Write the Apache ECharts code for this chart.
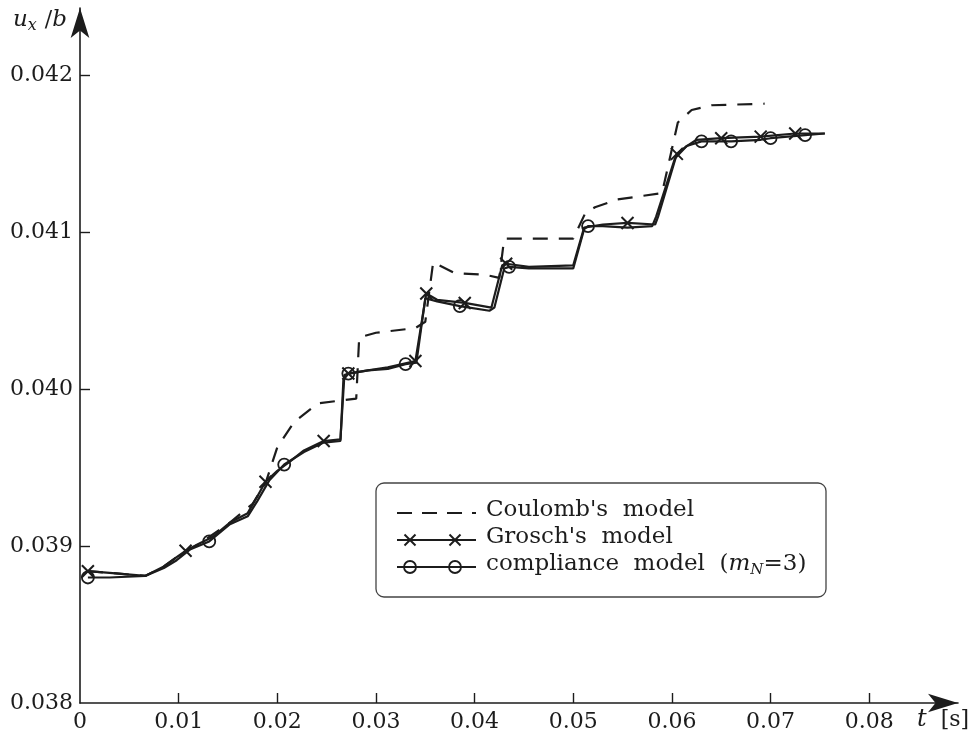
<!DOCTYPE html>
<html>
<head>
<meta charset="utf-8">
<script src="https://cdn.jsdelivr.net/npm/echarts@6/dist/echarts.min.js"></script>
<style>
  html, body { margin: 0; padding: 0; background: #fff; }
  #chart { width: 975px; height: 746px; }
</style>
</head>
<body>
<div id="chart"></div>
<script>
// tick labels
var xTicks = [0, 0.01, 0.02, 0.03, 0.04, 0.05, 0.06, 0.07, 0.08];
var yTicks = [0.038, 0.039, 0.040, 0.041, 0.042];

// Grosch's model (crosses)
var groschT = [0.0008, 0.0030, 0.0066, 0.0085, 0.0098, 0.0107, 0.0122, 0.0135, 0.0152, 0.0170,
               0.0180, 0.0188, 0.0200, 0.0213, 0.0227, 0.0247, 0.0264, 0.0268, 0.0272, 0.0292,
               0.0312, 0.0340, 0.0351, 0.0362, 0.0390, 0.0417, 0.0428, 0.0432, 0.0455, 0.0500,
               0.0511, 0.0530, 0.0555, 0.0583, 0.0586, 0.0605, 0.0615, 0.0625, 0.0650, 0.0690,
               0.0725, 0.0755];
var groschY = [0.03884, 0.03883, 0.03881, 0.03887, 0.03893, 0.03897, 0.03902, 0.03906, 0.03915, 0.03921,
               0.03932, 0.03941, 0.03948, 0.03954, 0.03961, 0.03967, 0.03968, 0.04009, 0.04010, 0.04012,
               0.04014, 0.04018, 0.04061, 0.04057, 0.04055, 0.04052, 0.04079, 0.04080, 0.04078, 0.04079,
               0.04103, 0.04105, 0.04106, 0.04105, 0.04110, 0.04150, 0.04155, 0.04159, 0.04160, 0.04161,
               0.04163, 0.04163];
var groschMarks = [0.0008, 0.0107, 0.0188, 0.0247, 0.0272, 0.0340, 0.0351, 0.0390, 0.0432, 0.0555,
                   0.0605, 0.0650, 0.0690, 0.0725];

// compliance model (circles)
var compT = [0.0008, 0.0030, 0.0066, 0.0085, 0.0098, 0.0112, 0.0131, 0.0152, 0.0170, 0.0180,
             0.0192, 0.0207, 0.0227, 0.0247, 0.0264, 0.0267, 0.0272, 0.0292, 0.0312, 0.0330,
             0.0341, 0.0350, 0.0362, 0.0385, 0.0415, 0.0420, 0.0430, 0.0435, 0.0455, 0.0500,
             0.0511, 0.0515, 0.0530, 0.0555, 0.0580, 0.0584, 0.0603, 0.0615, 0.0630, 0.0660,
             0.0690, 0.0700, 0.0735, 0.0755];
var compY = [0.03880, 0.03880, 0.03881, 0.03886, 0.03891, 0.03898, 0.03903, 0.03914, 0.03919, 0.03929,
             0.03942, 0.03952, 0.03960, 0.03966, 0.03967, 0.04006, 0.04010, 0.04012, 0.04013, 0.04016,
             0.04017, 0.04058, 0.04056, 0.04053, 0.04050, 0.04052, 0.04077, 0.04078, 0.04077, 0.04077,
             0.04102, 0.04104, 0.04104, 0.04103, 0.04104, 0.04110, 0.04147, 0.04155, 0.04158, 0.04158,
             0.04159, 0.04160, 0.04162, 0.04163];
var compMarks = [0.0008, 0.0131, 0.0207, 0.0272, 0.0330, 0.0385, 0.0435, 0.0515, 0.0630, 0.0660,
                 0.0700, 0.0735];

// Coulomb's model (dashed)
var coulombT = [0.0008, 0.0030, 0.0066, 0.0085, 0.0098, 0.0122, 0.0152, 0.0175, 0.0188, 0.0200,
                0.0217, 0.0241, 0.0280, 0.0283, 0.0300, 0.0340, 0.0350, 0.0358, 0.0380, 0.0410,
                0.0425, 0.0430, 0.0500, 0.0512, 0.0522, 0.0545, 0.0590, 0.0606, 0.0620, 0.0640,
                0.0694];
var coulombY = [0.03884, 0.03883, 0.03881, 0.03887, 0.03893, 0.03902, 0.03915, 0.03927, 0.03940, 0.03963,
                0.03979, 0.03991, 0.03994, 0.04033, 0.04036, 0.04039, 0.04043, 0.04081, 0.04074, 0.04073,
                0.04071, 0.04096, 0.04096, 0.04112, 0.04116, 0.04121, 0.04125, 0.04170, 0.04178, 0.04181,
                0.04182];

var ink = '#1c1c1c';
var serif = "'DejaVu Serif', 'Liberation Serif', serif";
var crossPath = 'path://M0,0L10,10M10,0L0,10';

function buildData(ts, ys, marks, sym) {
    return ts.map(function (t, i) {
        return { value: [t, ys[i]], symbol: marks.indexOf(t) >= 0 ? sym : 'none' };
    });
}

// legend cross drawn as two short lines
function legendCross(cx, cy) {
    var s = 5.5;
    return [
        { type: 'line', z: 11, shape: { x1: cx - s, y1: cy - s, x2: cx + s, y2: cy + s }, style: { stroke: ink, lineWidth: 2 } },
        { type: 'line', z: 11, shape: { x1: cx + s, y1: cy - s, x2: cx - s, y2: cy + s }, style: { stroke: ink, lineWidth: 2 } }
    ];
}

var dom = document.getElementById('chart');
var myChart = echarts.init(dom);

var graphics = [
    // axis names
    { type: 'text', left: 13, top: 9,
      style: { text: '{i|u}{s|x} /{i|b}', fill: ink, font: '22px ' + serif,
               rich: { i: { fontStyle: 'italic', fontSize: 23, fontFamily: serif },
                       s: { fontStyle: 'italic', fontSize: 16, fontFamily: serif, verticalAlign: 'bottom', padding: [11, 1, 0, 0] } } } },
    { type: 'text', left: 917, top: 708,
      style: { text: '{i|t}  [s]', fill: ink, font: '22px ' + serif,
               rich: { i: { fontStyle: 'italic', fontSize: 24, fontFamily: serif } } } },
    // legend box
    { type: 'rect', z: 10, shape: { x: 376, y: 483, width: 450, height: 114, r: 8 },
      style: { fill: '#fff', stroke: '#444', lineWidth: 1.3 } },
    { type: 'line', z: 11, shape: { x1: 397, y1: 513, x2: 476, y2: 513 },
      style: { stroke: ink, lineWidth: 2, lineDash: [15, 10] } },
    { type: 'line', z: 11, shape: { x1: 397, y1: 540, x2: 476, y2: 540 },
      style: { stroke: ink, lineWidth: 2 } },
    { type: 'line', z: 11, shape: { x1: 397, y1: 567, x2: 476, y2: 567 },
      style: { stroke: ink, lineWidth: 2 } },
    { type: 'circle', z: 11, shape: { cx: 410, cy: 567, r: 6 },
      style: { stroke: ink, lineWidth: 1.8, fill: 'none' } },
    { type: 'circle', z: 11, shape: { cx: 455, cy: 567, r: 6 },
      style: { stroke: ink, lineWidth: 1.8, fill: 'none' } },
    { type: 'text', left: 486, top: 499, z: 11,
      style: { text: "Coulomb's  model", fill: ink, font: '23px ' + serif } },
    { type: 'text', left: 486, top: 526, z: 11,
      style: { text: "Grosch's  model", fill: ink, font: '23px ' + serif } },
    { type: 'text', left: 486, top: 553, z: 11,
      style: { text: 'compliance  model  ({i|m}{s|N}=3)', fill: ink, font: '23px ' + serif,
               rich: { i: { fontStyle: 'italic', fontSize: 23, fontFamily: serif },
                       s: { fontStyle: 'italic', fontSize: 15, fontFamily: serif, verticalAlign: 'bottom', padding: [12, 0, 0, 0] } } } }
].concat(legendCross(410, 540), legendCross(455, 540));

var option = {
    backgroundColor: '#fff',
    animation: false,
    grid: { left: 80, right: 17, top: 8, bottom: 43 },
    xAxis: {
        type: 'value',
        min: 0,
        max: 0.089,
        interval: 0.01,
        splitLine: { show: false },
        axisLine: { lineStyle: { color: ink, width: 1.6 }, symbol: ['none', 'arrow'], symbolSize: [14, 30] },
        axisTick: { inside: true, length: 10, lineStyle: { color: ink, width: 1.4 },
                    customValues: xTicks.slice(1) },
        axisLabel: {
            customValues: xTicks,
            color: ink, fontFamily: serif, fontSize: 22, margin: 8,
            formatter: function (v) { return v === 0 ? '0' : v.toFixed(2); }
        }
    },
    yAxis: {
        type: 'value',
        min: 0.038,
        max: 0.04243,
        interval: 0.001,
        splitLine: { show: false },
        axisLine: { lineStyle: { color: ink, width: 1.6 }, symbol: ['none', 'arrow'], symbolSize: [14, 30] },
        axisTick: { inside: true, length: 10, lineStyle: { color: ink, width: 1.4 },
                    customValues: yTicks.slice(1) },
        axisLabel: {
            customValues: yTicks,
            color: ink, fontFamily: serif, fontSize: 22, margin: 7,
            formatter: function (v) { return v.toFixed(3); }
        }
    },
    series: [
        {
            name: "Coulomb's model",
            type: 'line',
            symbol: 'none',
            data: coulombT.map(function (t, i) { return [t, coulombY[i]]; }),
            lineStyle: { color: ink, width: 2.2, type: [15, 11] }
        },
        {
            name: "Grosch's model",
            type: 'line',
            symbolSize: 12,
            data: buildData(groschT, groschY, groschMarks, crossPath),
            lineStyle: { color: ink, width: 2.2 },
            itemStyle: { color: ink, borderColor: ink, borderWidth: 2 }
        },
        {
            name: 'compliance model',
            type: 'line',
            symbolSize: 12,
            data: buildData(compT, compY, compMarks, 'circle'),
            lineStyle: { color: ink, width: 2.2 },
            itemStyle: { color: 'rgba(255,255,255,0)', borderColor: ink, borderWidth: 1.8 }
        }
    ],
    graphic: graphics
};

myChart.setOption(option, true);
</script>
</body>
</html>
